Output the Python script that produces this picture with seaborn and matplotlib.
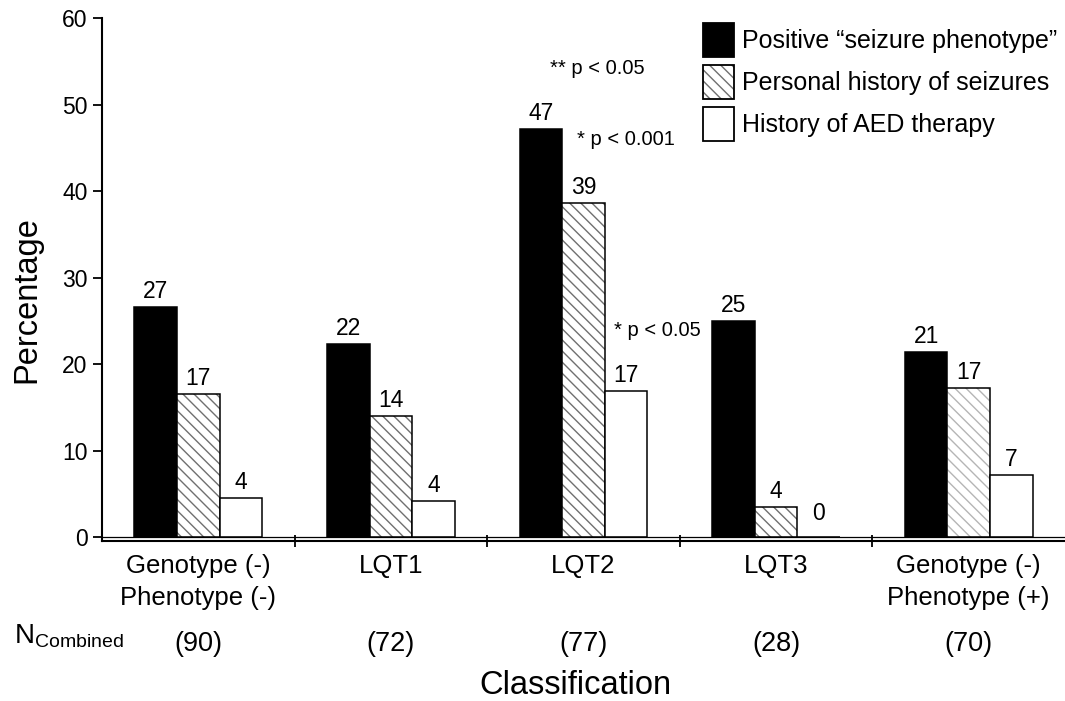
import matplotlib
matplotlib.use("Agg")
import matplotlib.pyplot as plt
import matplotlib.transforms as mtransforms
import pandas as pd
import seaborn as sns
from matplotlib.colors import to_rgba
from matplotlib.patches import Patch

groups = [
    "Genotype (-)\nPhenotype (-)",
    "LQT1",
    "LQT2",
    "LQT3",
    "Genotype (-)\nPhenotype (+)",
]
series = [
    "Positive \u201cseizure phenotype\u201d",
    "Personal history of seizures",
    "History of AED therapy",
]
seizure_phenotype = [26.6, 22.3, 47.2, 25.0, 21.4]
personal_history = [16.5, 14.0, 38.6, 3.5, 17.2]
aed_therapy = [4.5, 4.2, 16.9, 0.0, 7.2]

seizure_labels = [27, 22, 47, 25, 21]
personal_labels = [17, 14, 39, 4, 17]
aed_labels = [4, 4, 17, 0, 7]

n_combined = ["(90)", "(72)", "(77)", "(28)", "(70)"]


def set_hatch_color(patch, color):
    if hasattr(patch, "set_hatchcolor"):
        patch.set_hatchcolor(color)
    else:
        patch._hatch_color = to_rgba(color)


df = pd.DataFrame({
    "group": groups * 3,
    "series": [s for s in series for _ in groups],
    "value": seizure_phenotype + personal_history + aed_therapy,
})

sns.set_style("ticks", rc={
    "text.color": "black",
    "axes.labelcolor": "black",
    "axes.edgecolor": "black",
    "xtick.color": "black",
    "ytick.color": "black",
})
plt.rcParams["font.family"] = ["Liberation Sans", "DejaVu Sans"]
plt.rcParams["mathtext.fontset"] = "custom"
plt.rcParams["mathtext.rm"] = "Liberation Sans"
plt.rcParams["hatch.linewidth"] = 1.0

HATCH = "\\\\\\"

fig = plt.figure(figsize=(10.65, 7.01), dpi=100)
ax = fig.add_axes([102 / 1065, 1 - 540.5 / 701, 1 - 102 / 1065, (540.5 - 18) / 701])

sns.barplot(
    data=df,
    x="group",
    y="value",
    hue="series",
    order=groups,
    hue_order=series,
    palette=["black", "white", "white"],
    saturation=1,
    width=0.664,
    gap=0,
    edgecolor="black",
    linewidth=1.1,
    errorbar=None,
    legend=False,
    ax=ax,
)

# hatched middle series, last group drawn with lighter hatch
for i, bar in enumerate(ax.containers[1]):
    bar.set_hatch(HATCH)
    set_hatch_color(bar, "#b5b5b5" if i == len(groups) - 1 else "#707070")

for cont, labels in zip(ax.containers, [seizure_labels, personal_labels, aed_labels]):
    texts = ax.bar_label(cont, labels=[str(v) for v in labels], padding=3, fontsize=16.5)
    for t, v in zip(texts, labels):
        if v == 0:
            t.xyann = (0, 9)

ax.set_xlim(-0.5, 4.5)
ax.set_ylim(-0.4, 60)
ax.set_yticks(range(0, 61, 10))
ax.axhline(0, color="black", lw=0.9)
sns.despine(ax=ax)
ax.spines[["left", "bottom"]].set_linewidth(1.5)
ax.tick_params(axis="y", direction="out", length=6.5, width=1.3, pad=4, labelsize=16.5)
ax.tick_params(axis="x", which="major", length=0, pad=10, labelsize=18.5)
ax.set_xticks([0.5, 1.5, 2.5, 3.5], minor=True)
ax.tick_params(axis="x", which="minor", direction="inout", length=9, width=1.3)
for lab in ax.get_xticklabels():
    lab.set_linespacing(1.4)
ax.set_xlabel("")
ax.set_ylabel("")

ax.text(2.07, 54.2, "** p < 0.05", ha="center", va="center", fontsize=14.5)
ax.text(1.965, 45.9, "* p < 0.001", ha="left", va="center", fontsize=14.5)
ax.text(2.16, 23.9, "* p < 0.05", ha="left", va="center", fontsize=14.5)

fig.text(27 / 1065, 1 - 300 / 701, "Percentage", rotation=90, fontsize=23.5,
         ha="center", va="center")
fig.text(575 / 1065, 1 - 686 / 701, "Classification", fontsize=23.5,
         ha="center", va="center")

fig.text(14 / 1065, 1 - 643 / 701, r"N$_{\mathrm{Combined}}$", fontsize=20,
         ha="left", va="baseline")
trans = mtransforms.blended_transform_factory(ax.transData, fig.transFigure)
for i, n in enumerate(n_combined):
    ax.text(i, 1 - 644 / 701, n, transform=trans, ha="center", va="center",
            fontsize=19.5)

handles = [
    Patch(facecolor="black", edgecolor="black", linewidth=1.3),
    Patch(facecolor="white", edgecolor="black", linewidth=1.3, hatch=HATCH),
    Patch(facecolor="white", edgecolor="black", linewidth=1.3),
]
leg = fig.legend(
    handles,
    series,
    loc="upper left",
    bbox_to_anchor=(703 / 1065, 1 - 23 / 701),
    frameon=False,
    fontsize=18,
    handlelength=1.24,
    handleheight=1.72,
    handletextpad=0.3,
    labelspacing=0.32,
    borderpad=0,
    borderaxespad=0,
)
set_hatch_color(leg.legend_handles[1], "#707070")

fig.savefig("out.png", dpi=100)
